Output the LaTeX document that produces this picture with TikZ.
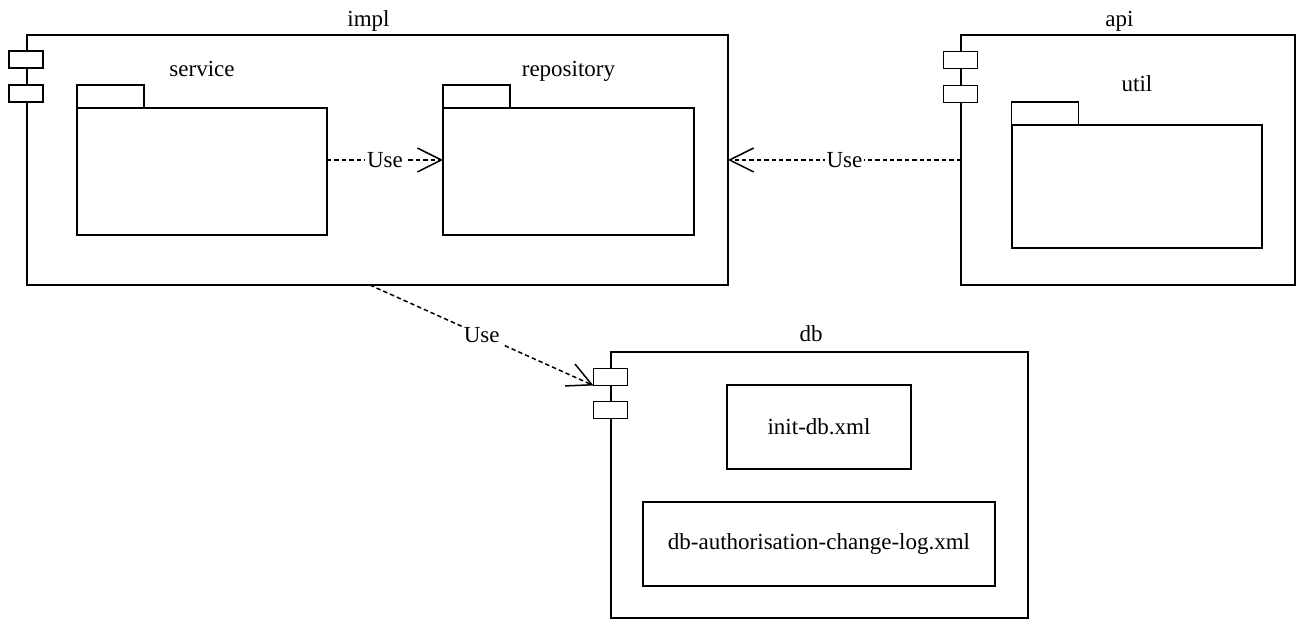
\documentclass[tikz,border=0pt]{standalone}
\usepackage{fontspec}
\setmainfont{Liberation Serif}
\usetikzlibrary{arrows.meta,calc}

\tikzset{
    box/.style={draw, line width=0.75pt, inner sep=0pt, outer sep=0pt},
    port/.style={box, fill=white, minimum width=17pt, minimum height=8.5pt},
    pkgtab/.style={box, minimum width=33.5pt, minimum height=11.5pt},
    title/.style={anchor=base, inner sep=0pt},
    uses/.style={line width=0.75pt, dash pattern=on 2.2pt off 1.5pt,
        -{Straight Barb[length=12pt, width=12pt, line width=0.75pt]}},
    uselabel/.style={fill=white, inner sep=1pt}
}

\begin{document}
\begin{tikzpicture}[x=0.5pt, y=-0.5pt, font=\fontsize{11.5}{14}\selectfont]
    \useasboundingbox (0, 0) rectangle (1303, 619);

    % impl component
    \node [box, minimum width=350.5pt, minimum height=125pt] (impl) at (377.5, 160) {};
    \node [port] (implportA) at (26, 59.5) {};
    \node [port] (implportB) at (26, 93.5) {};
    \node [title] (impltitle) at (368.5, 27) {impl};

    \node [pkgtab] (servicetab) at (110.5, 96.5) {};
    \node [box, minimum width=125pt, minimum height=63.5pt] (service) at (202, 171.5) {};
    \node [title] (servicetitle) at (202, 77) {service};

    \node [pkgtab] (repositorytab) at (476.5, 96.5) {};
    \node [box, minimum width=125.5pt, minimum height=63.5pt] (repository) at (568.5, 171.5) {};
    \node [title] (repositorytitle) at (568.5, 77) {repository};

    % api component
    \node [box, minimum width=167pt, minimum height=125pt] (api) at (1128, 160) {};
    \node [port] (apiportA) at (960.5, 60) {};
    \node [port] (apiportB) at (960.5, 94) {};
    \node [title] (apititle) at (1119.5, 27) {api};

    \node [pkgtab] (utiltab) at (1045, 113.5) {};
    \node [box, minimum width=125pt, minimum height=61.5pt] (util) at (1137, 186.5) {};
    \node [title] (utiltitle) at (1137, 92) {util};

    % db component
    \node [box, minimum width=208.5pt, minimum height=133pt] (db) at (819.5, 485) {};
    \node [port] (dbportA) at (610.5, 377) {};
    \node [port] (dbportB) at (610.5, 410) {};
    \node [title] (dbtitle) at (811, 342) {db};

    \node [box, minimum width=92pt, minimum height=42pt] (initdb) at (819, 427) {init-db.xml};
    \node [box, minimum width=176pt, minimum height=42pt] (changelog) at (819, 544) {db-authorisation-change-log.xml};

    % dependencies
    \draw [uses] (service.east |- impl) -- node [uselabel] {Use} (repository.west |- impl);
    \draw [uses] (api.west) -- node [uselabel] {Use} (impl.east);
    \draw [uses] ($(impl.south west)!0.489!(impl.south east)$) -- node [uselabel] {Use} (dbportA.south west);
\end{tikzpicture}
\end{document}
